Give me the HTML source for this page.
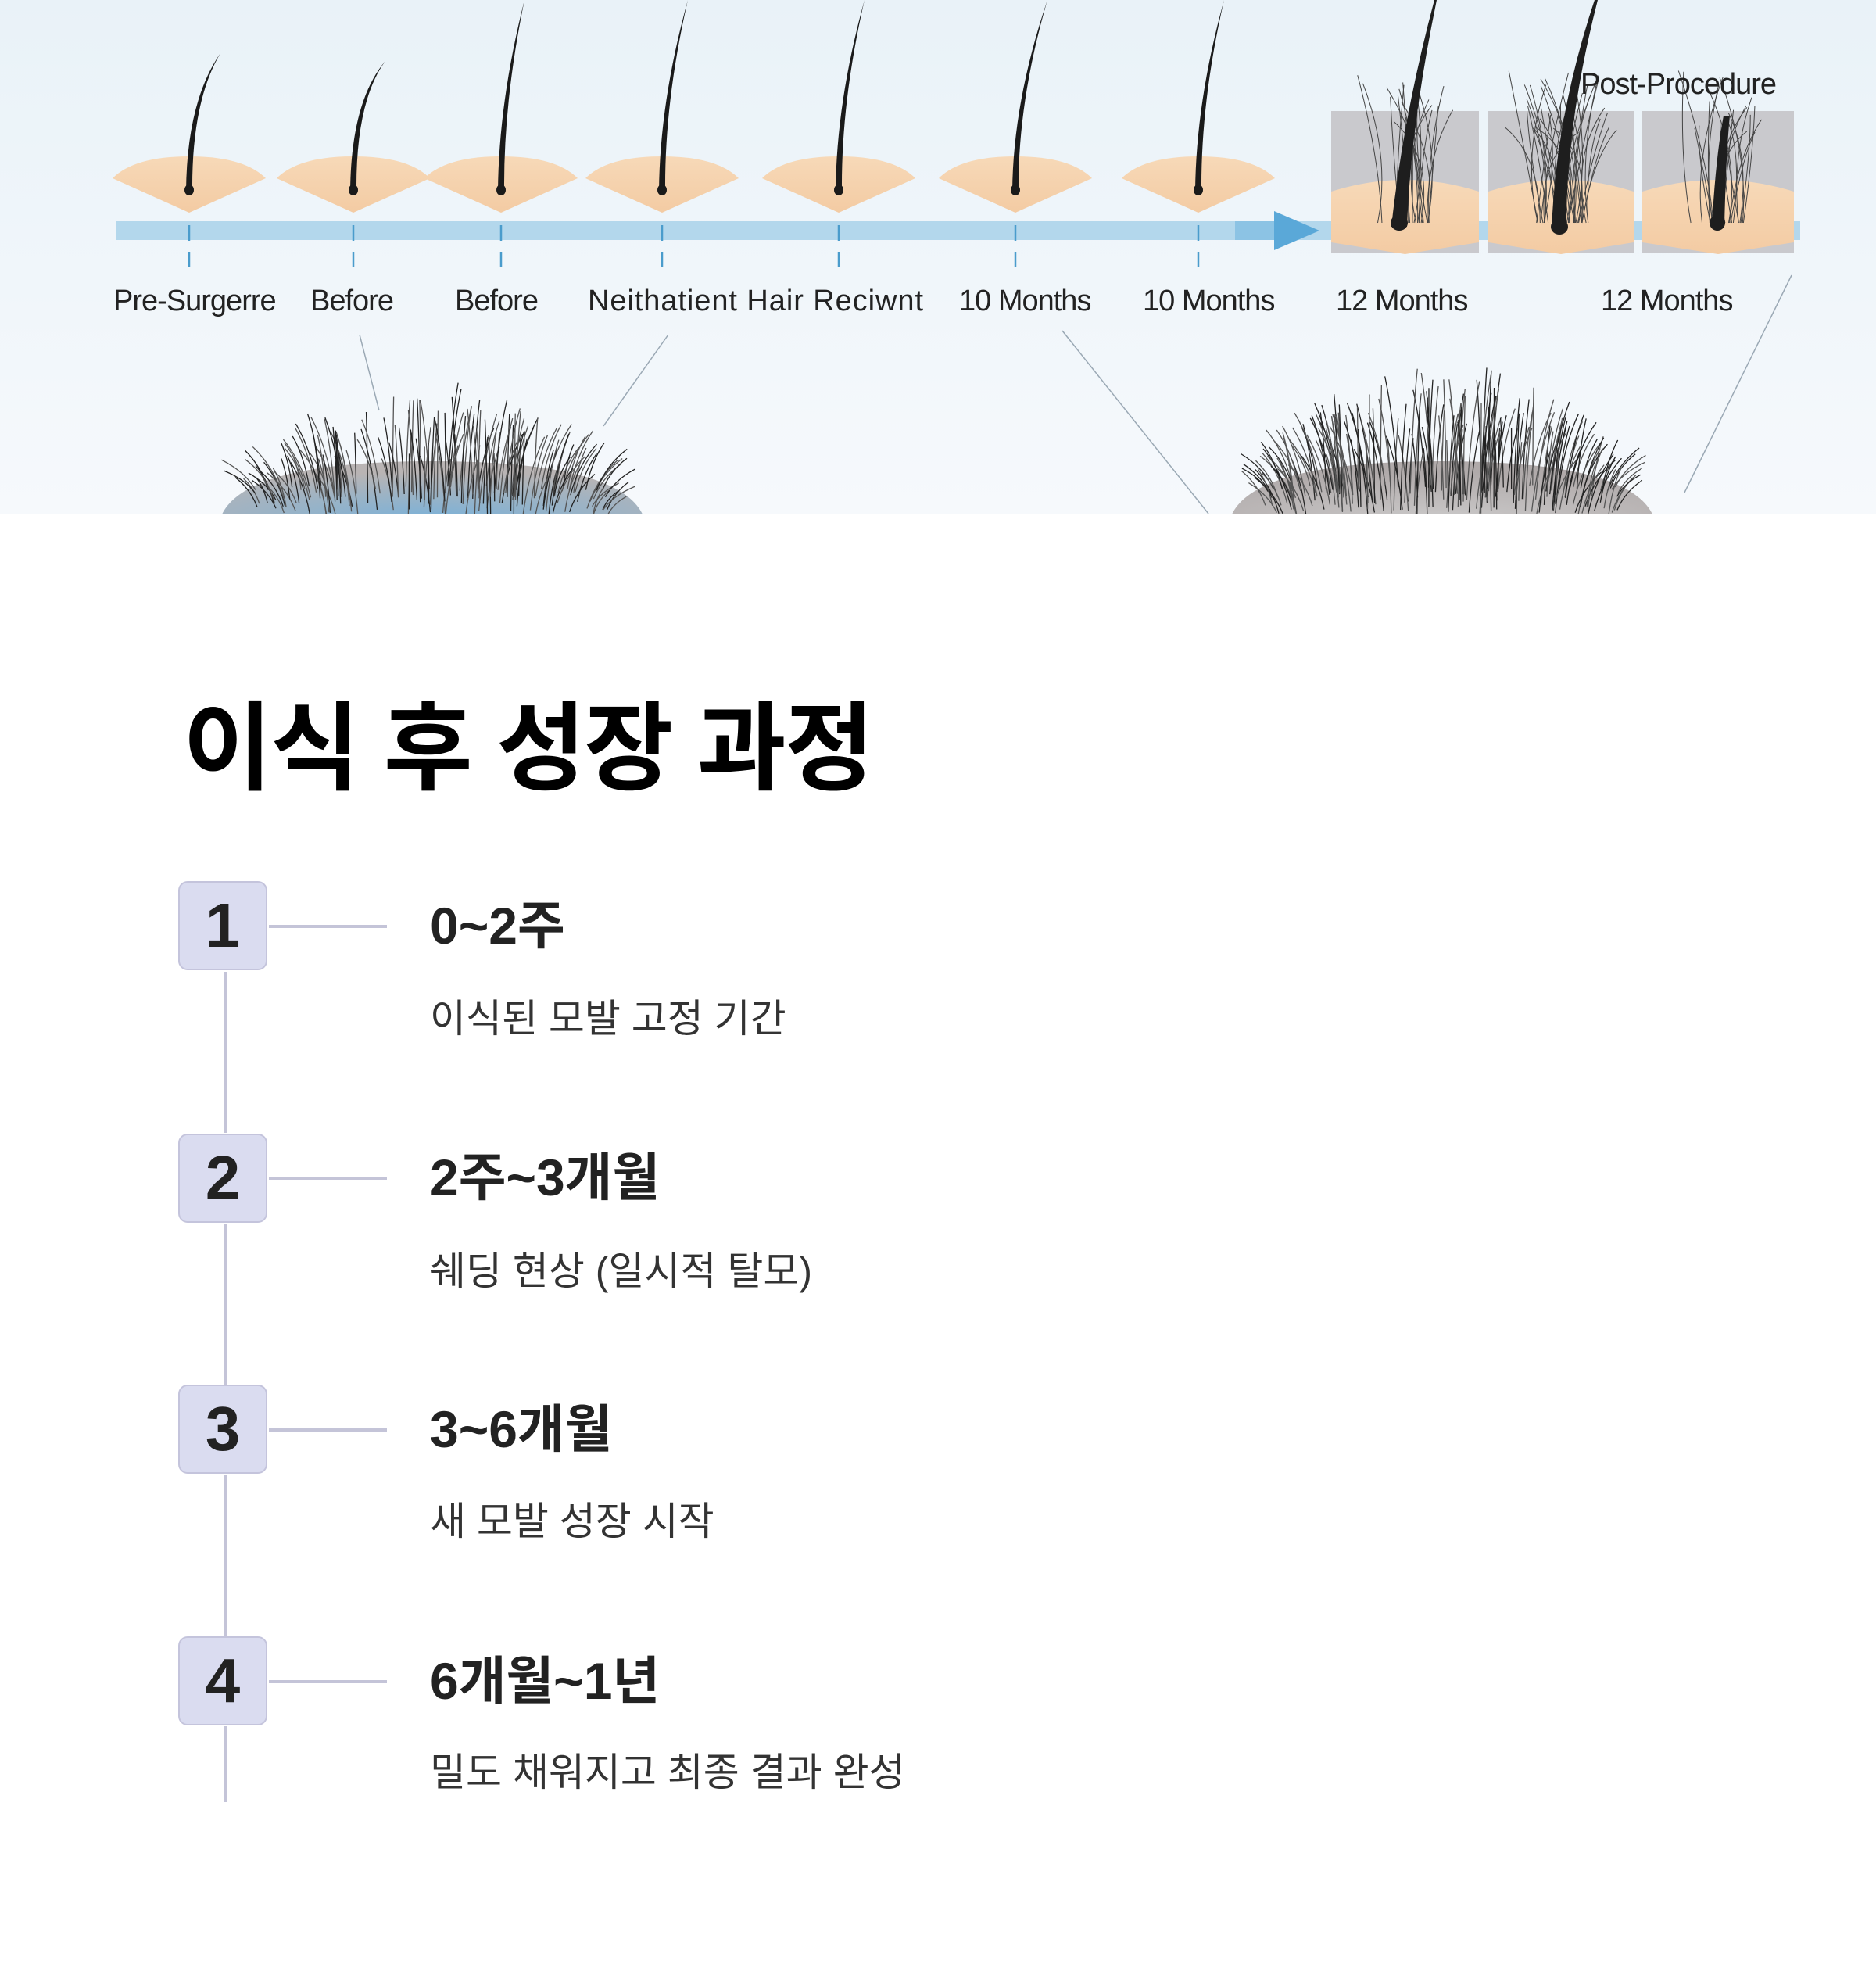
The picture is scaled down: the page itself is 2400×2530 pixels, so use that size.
<!DOCTYPE html>
<html><head><meta charset="utf-8">
<style>
html,body{margin:0;padding:0;background:#fff;}
body{width:2400px;height:2530px;position:relative;overflow:hidden;font-family:"Liberation Sans","Noto Sans CJK KR",sans-serif;}
#top{position:absolute;left:0;top:0;width:2400px;height:658px;}
h1{position:absolute;left:234px;top:896px;margin:0;font-size:124px;font-weight:700;color:#000;font-family:"Liberation Sans","Noto Sans CJK KR",sans-serif;letter-spacing:-2px;line-height:1;}
.box{position:absolute;left:228px;width:114px;height:114px;border:2px solid #c4c4dc;background:#dadcf0;border-radius:12px;box-sizing:border-box;font-size:80px;font-weight:700;color:#222;text-align:center;line-height:110px;}
.hl{position:absolute;left:344px;width:151px;height:4px;background:#c4c4d8;}
.vl{position:absolute;left:286px;width:4px;background:#c4c4d8;}
.hd{position:absolute;left:550px;font-size:66px;font-weight:700;color:#222;line-height:1;}
.ds{position:absolute;left:550px;font-size:50px;color:#333;line-height:1;}
</style></head><body>
<svg id="top" width="2400" height="658" viewBox="0 0 2400 658">
<defs>
<linearGradient id="bg" x1="0" y1="0" x2="0" y2="1"><stop offset="0" stop-color="#e9f2f8"/><stop offset="1" stop-color="#f6f9fc"/></linearGradient>
<linearGradient id="skin" x1="0" y1="0" x2="0" y2="1"><stop offset="0" stop-color="#f7d9b8"/><stop offset="1" stop-color="#f3cba3"/></linearGradient>
<radialGradient id="head1" cx="0.5" cy="1" r="0.8"><stop offset="0" stop-color="#7fb2d6"/><stop offset="1" stop-color="#b9b4b4"/></radialGradient>
<radialGradient id="head2" cx="0.5" cy="1" r="0.8"><stop offset="0" stop-color="#c8c6c6"/><stop offset="1" stop-color="#b0aaaa"/></radialGradient>
</defs>
<rect width="2400" height="658" fill="url(#bg)"/>
<g stroke="#9aa8b4" stroke-width="1.5" fill="none">
<line x1="460" y1="428" x2="485" y2="525"/>
<line x1="855" y1="428" x2="772" y2="545"/>
<line x1="1359" y1="423" x2="1546" y2="657"/>
<line x1="2292" y1="352" x2="2155" y2="630"/>
</g>
<rect x="148" y="283" width="2155" height="24" fill="#b3d7ec"/>
<polygon points="1630,270 1688,295 1630,320" fill="#5aa8d8"/>
<rect x="1580" y="283" width="50" height="24" fill="#8cc3e4"/>
<g id="gb"></g>
<g id="dia"></g>
<g id="heads"></g>
<g font-family="Liberation Sans, sans-serif" font-size="38" fill="#222" letter-spacing="-1">
<text x="145" y="397">Pre-Surgerre</text>
<text x="397" y="397">Before</text>
<text x="582" y="397">Before</text>
<text x="752" y="397" textLength="428">Neithatient Hair Reciwnt</text>
<text x="1227" y="397">10 Months</text>
<text x="1462" y="397">10 Months</text>
<text x="1709" y="397">12 Months</text>
<text x="2048" y="397">12 Months</text>
<text x="2022" y="120">Post-Procedure</text>
</g>
</svg>
<h1>이식 후 성장 과정</h1>

<div class="vl" style="top:1243px;height:206px"></div>
<div class="vl" style="top:1566px;height:205px"></div>
<div class="vl" style="top:1887px;height:205px"></div>
<div class="vl" style="top:2208px;height:97px"></div>

<div class="box" style="top:1127px">1</div><div class="hl" style="top:1183px"></div>
<div class="hd" style="top:1151px">0~2주</div><div class="ds" style="top:1278px">이식된 모발 고정 기간</div>

<div class="box" style="top:1450px">2</div><div class="hl" style="top:1505px"></div>
<div class="hd" style="top:1473px">2주~3개월</div><div class="ds" style="top:1601px">쉐딩 현상 (일시적 탈모)</div>

<div class="box" style="top:1771px">3</div><div class="hl" style="top:1827px"></div>
<div class="hd" style="top:1795px">3~6개월</div><div class="ds" style="top:1921px">새 모발 성장 시작</div>

<div class="box" style="top:2093px">4</div><div class="hl" style="top:2149px"></div>
<div class="hd" style="top:2117px">6개월~1년</div><div class="ds" style="top:2242px">밀도 채워지고 최종 결과 완성</div>

<script>
var NS="http://www.w3.org/2000/svg";
function el(p,t,a){var e=document.createElementNS(NS,t);for(var k in a)e.setAttribute(k,a[k]);p.appendChild(e);return e;}
var seed=7;function rnd(){seed=(seed*16807)%2147483647;return seed/2147483647;}
var gb=document.getElementById('gb');
[[1703,189],[1904,186],[2101,194]].forEach(function(b,i){
 el(gb,'rect',{x:b[0],y:142,width:b[1],height:181,fill:'#c9c9cd'});
 var cx=b[0]+b[1]/2;
 el(gb,'path',{d:'M'+b[0]+' 245 Q'+cx+' 215 '+(b[0]+b[1])+' 245 L'+(b[0]+b[1])+' 310 L'+cx+' 325 L'+b[0]+' 310 Z',fill:'url(#skin)'});
 for(var j=0;j<(i==1?40:22);j++){var x=cx+(rnd()-0.5)*70;el(gb,'path',{d:'M'+x+' 285 Q'+(x+(rnd()-0.5)*40)+' 200 '+(x+(rnd()-0.5)*90)+' '+(90+rnd()*80),stroke:'#444',fill:'none','stroke-width':1});}
});
el(gb,'path',{d:'M1780 290 Q1795 150 1835 0 L1838 0 Q1805 160 1800 290 Z',fill:'#1e1e1e'});
el(gb,'ellipse',{cx:1790,cy:285,rx:11,ry:10,fill:'#1e1e1e'});
el(gb,'path',{d:'M1985 295 Q1990 150 2040 0 L2044 0 Q2003 160 2004 295 Z',fill:'#1e1e1e'});
el(gb,'ellipse',{cx:1995,cy:290,rx:11,ry:10,fill:'#1e1e1e'});
el(gb,'path',{d:'M2190 290 Q2195 200 2205 148 L2213 148 Q2208 200 2206 290 Z',fill:'#1e1e1e'});
el(gb,'ellipse',{cx:2197,cy:285,rx:10,ry:10,fill:'#1e1e1e'});
var d=document.getElementById('dia');
var cs=[[242,282,68],[452,493,78],[641,671,0],[847,880,0],[1073,1106,0],[1299,1340,0],[1533,1566,0]];
cs.forEach(function(c){var x=c[0];
 el(d,'path',{d:'M'+(x-98)+' 228 Q'+(x-70)+' 200 '+x+' 200 Q'+(x+70)+' 200 '+(x+98)+' 228 L'+x+' 272 Z',fill:'url(#skin)'});
 el(d,'path',{d:'M'+(x-4)+' 245 Q'+(x-3)+' 130 '+c[1]+' '+c[2]+' Q'+(x+3)+' 130 '+(x+4)+' 245 Z',fill:'#1a1a1a'});
 el(d,'ellipse',{cx:x,cy:243,rx:6,ry:7,fill:'#1a1a1a'});
 el(d,'line',{x1:x,y1:288,x2:x,y2:350,stroke:'#4a9ccc','stroke-width':2.5,'stroke-dasharray':'20 14'});
});
var h=document.getElementById('heads');
function head(cx,w,top,grad,n){
 el(h,'path',{d:'M'+(cx-w/2)+' 660 Q'+(cx-w/2+30)+' 590 '+cx+' 590 Q'+(cx+w/2-30)+' 590 '+(cx+w/2)+' 660 Z',fill:'url(#'+grad+')'});
 for(var i=0;i<n;i++){var t=rnd();var x=cx-w*0.42+t*w*0.84;var edge=1-Math.pow((t-0.5)*2,2);
  var y0=660-rnd()*40; var len=(660-top)*(0.3+0.7*edge)*(0.5+0.5*rnd());
  var lean=(t-0.5)*60+(rnd()-0.5)*30;
  el(h,'path',{d:'M'+x+' '+y0+' Q'+(x+lean*0.3)+' '+(y0-len*0.6)+' '+(x+lean)+' '+(y0-len),stroke:(rnd()<0.5?'#222':'#555'),fill:'none','stroke-width':1.3});}
}
head(553,540,525,'head1',180);
head(1845,540,495,'head2',220);
</script>
</body></html>
